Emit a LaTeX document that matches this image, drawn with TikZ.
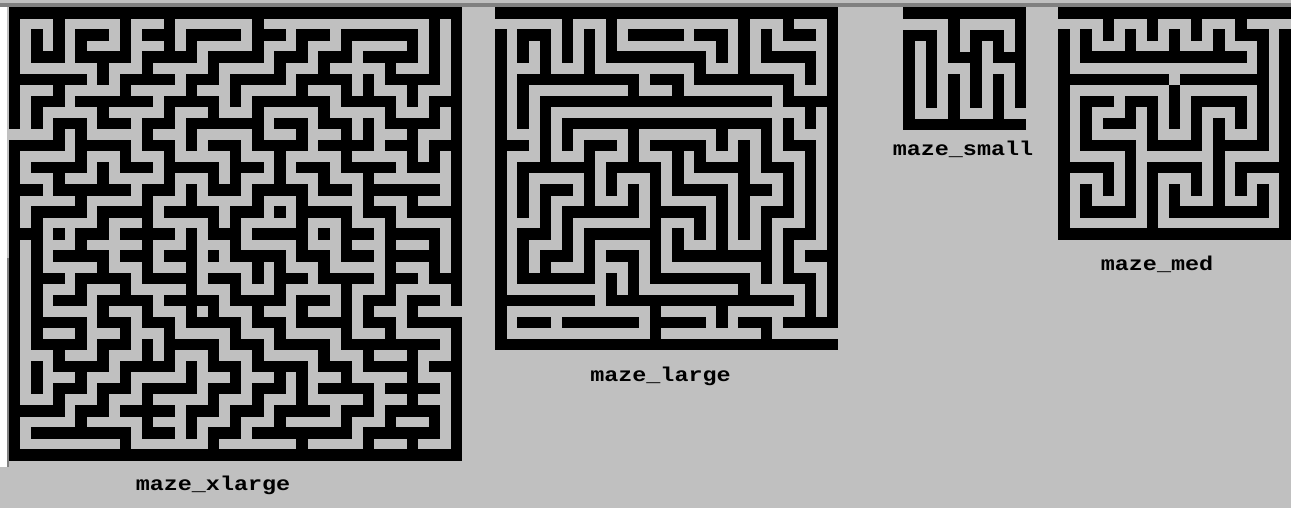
\documentclass[tikz,border=0pt]{standalone}
\usepackage{fontspec}
\newfontfamily\lblfont{Liberation Mono}[FakeStretch=1.17]
\definecolor{bggray}{HTML}{C0C0C0}
\definecolor{edgegray}{HTML}{808080}
\newcount\MZc
\newcount\MZr
% plain row: X = wall unit, . = path unit
\def\MZscan#1{\ifx#1\relax\else\if#1X\fill[mzwall] (\the\MZc,\the\MZr) rectangle ++(1.04,1.04);\fi\advance\MZc by 1 \expandafter\MZscan\fi}
\newcommand\MZrow[1]{\MZc=0 \MZscan#1\relax\advance\MZr by 1 }
% even row (posts + horizontal walls), one bit per cell
\def\MZhscan#1{\ifx#1\relax\else\fill[mzwall] (\the\MZc,\the\MZr) rectangle ++(1.04,1.04);\if#11\fill[mzwall] (\the\numexpr\MZc+1\relax,\the\MZr) rectangle ++(1.04,1.04);\fi\advance\MZc by 2 \expandafter\MZhscan\fi}
\newcommand\MZH[1]{\MZc=0 \MZhscan#1\relax\fill[mzwall] (\the\MZc,\the\MZr) rectangle ++(1.04,1.04);\advance\MZr by 1 }
% odd row (vertical walls), one bit per post column
\def\MZvscan#1{\ifx#1\relax\else\if#11\fill[mzwall] (\the\MZc,\the\MZr) rectangle ++(1.04,1.04);\fi\advance\MZc by 2 \expandafter\MZvscan\fi}
\newcommand\MZV[1]{\MZc=0 \MZvscan#1\relax\advance\MZr by 1 }
\tikzset{
  mzwall/.style={fill=black},
  mazelabel/.style={font=\lblfont\bfseries\fontsize{20}{24}\selectfont, text=black, inner sep=0pt, anchor=base}
}
\begin{document}
\begin{tikzpicture}[x=1pt,y=-1pt]
\useasboundingbox (0,0) rectangle (1291,508);
\fill[bggray] (0,0) rectangle (1291,508);
\fill[edgegray] (0,3.3) rectangle (1291,7.3);
\fill[white] (0,7.3) rectangle (7.3,467);
\fill[edgegray] (7.3,258) rectangle (9,467);
% maze_xlarge
\begin{scope}[shift={(9,7.3)},x=11.05pt,y=-11.05pt]
\MZr=0
\MZH{11111111111111111111}
\MZV{101001010001000000011}
\MZH{00010010110101011100}
\MZV{111101011001010100111}
\MZH{01011011011010101100}
\MZV{100010100100101001011}
\MZH{11100110101101100110}
\MZV{101001001010010110101}
\MZH{01011101100111011001}
\MZV{110010010101001001011}
\MZH{00101010111010100110}
\MZV{001100101001010110101}
\MZH{11011010010110110101}
\MZV{100101010010100100111}
\MZH{01100101101001011010}
\MZV{101010010110101010001}
\MZH{10111010010110101110}
\MZV{100100101001010010101}
\MZH{01101101101001101011}
\MZV{110010100110010101001}
\MZH{10010110010110010110}
\MZV{110100101010010101011}
\MZH{00110101001101010110}
\MZV{110010101001101001011}
\MZH{01011011010010110101}
\MZV{110101001010100101001}
\MZH{00101101101101001010}
\MZV{110010101101010110100}
\MZH{01101010110101101011}
\MZV{110101010010100101001}
\MZH{01101001101011011110}
\MZV{101010110101001010101}
\MZH{00110110010110101101}
\MZV{110101001010110100101}
\MZH{00101011010100110110}
\MZV{101010100101010010101}
\MZH{11010110101011010110}
\MZV{100100101010100101011}
\MZH{01111010010111101110}
\MZV{100001000100010010101}
\MZH{11111111111111111111}
\end{scope}
% maze_large
\begin{scope}[shift={(495.3,7.3)},x=11.05pt,y=-11.05pt]
\MZr=0
\MZrow{XXXXXXXXXXXXXXXXXXXXXXXXXXXXXXX}
\MZrow{......X...X...........X...X...X}
\MZrow{X.XXX.X.X.X.XXXXX.XXX.X.X.XXX.X}
\MZrow{X.X.X.X.X.X.........X.X.X.....X}
\MZrow{X.X.X.X.X.XXXXXXXXX.X.X.XXXXX.X}
\MZrow{X...X...X.........X...X.....X.X}
\MZrow{X.XXXXXXXXXXX.XXX.XXXXXXXXX.X.X}
\MZrow{X.X.........X...X.........X...X}
\MZrow{X.X.XXXXXXXXXXXXXXXXXXXXX.XXXXX}
\MZrow{X.X.X.......................X.X}
\MZrow{X.X.X.XXXXXXXXXXXXXXXXXXX.X.X.X}
\MZrow{X...X.X.....X.......X...X.X...X}
\MZrow{XXX.X.X.XXX.X.XXXXX.X.X.X.XXX.X}
\MZrow{X...X...X...X...X.X...X.X...X.X}
\MZrow{X.XXXXXXX.XXXXX.X.XXXXX.XXX.X.X}
\MZrow{X.X.....X.X...X.X.....X...X.X.X}
\MZrow{X.X.XXX.X.X.X.X.XXXXX.XXX.X.X.X}
\MZrow{X.X.X...X...X.X.....X.X...X.X.X}
\MZrow{X.X.X.XXXXXXX.XXXXX.X.X.XXX.X.X}
\MZrow{X...X.X.......X...X.X.X.X...X.X}
\MZrow{X.XXX.X.XXXXXXX.X.X.X.X.X.XXX.X}
\MZrow{X.X...X.X.....X.X...X...X.X...X}
\MZrow{X.X.XXX.X.XXX.X.XXXXXXXXX.X.XXX}
\MZrow{X.X.X...X...X.X.........X.X...X}
\MZrow{X.XXXXXXX.X.X.XXXXXXXXX.X.XXX.X}
\MZrow{X.........X.X.........X.....X.X}
\MZrow{XXXXXXXXX.XXXXXXXXXXXXXXXXX.X.X}
\MZrow{X.............X.....X.......X.X}
\MZrow{X.XXX.XXXXXXX.XXXXX.X.XXX.XXXXX}
\MZrow{X.............X.........X......}
\MZrow{XXXXXXXXXXXXXXXXXXXXXXXXXXXXXXX}
\end{scope}
% maze_small
\begin{scope}[shift={(903.3,7.3)},x=11.15pt,y=-11.15pt]
\MZr=0
\MZrow{XXXXXXXXXXX}
\MZrow{....X.....X}
\MZrow{XXX.X.XXX.X}
\MZrow{X.X.X.X.X.X}
\MZrow{X.X.XXX.XXX}
\MZrow{X.X...X...X}
\MZrow{X.X.X.X.X.X}
\MZrow{X.X.X.X.X.X}
\MZrow{X.X.X.X.X.X}
\MZrow{X...X...X..}
\MZrow{XXXXXXXXXXX}
\end{scope}
% maze_med
\begin{scope}[shift={(1058.3,7.3)},x=11.05pt,y=-11.05pt]
\MZr=0
\MZrow{XXXXXXXXXXXXXXXXXXXXX}
\MZrow{....X...X...X...X....}
\MZrow{X.X.X.X.X.X.X.X.XXX.X}
\MZrow{X.X...X...X...X...X.X}
\MZrow{X.XXXXXXXXXXXXXXX.X.X}
\MZrow{X.................X.X}
\MZrow{XXXXXXXXXX.XXXXXXXX.X}
\MZrow{X.........X.......X.X}
\MZrow{X.XXX.XXX.X.XXXXX.X.X}
\MZrow{X.X...X.X.X.X...X.X.X}
\MZrow{X.X.XXX.X.X.X.X.X.X.X}
\MZrow{X.X.....X...X.X...X.X}
\MZrow{X.XXXXX.XXXXX.XXXXX.X}
\MZrow{X.....X.......X.....X}
\MZrow{XXXXX.X.XXXXX.X.XXXXX}
\MZrow{X...X.X.X...X.X.X...X}
\MZrow{X.X.X.X.X.X.X.X.X.X.X}
\MZrow{X.X...X.X.X...X...X.X}
\MZrow{X.XXXXX.X.XXXXXXXXX.X}
\MZrow{X.......X...........X}
\MZrow{XXXXXXXXXXXXXXXXXXXXX}
\end{scope}
\node[mazelabel] (lblxl) at (213,490.5) {maze\_xlarge};
\node[mazelabel] (lbll) at (660.5,381) {maze\_large};
\node[mazelabel] (lbls) at (963,156) {maze\_small};
\node[mazelabel] (lblm) at (1157,270) {maze\_med};
\end{tikzpicture}
\end{document}
